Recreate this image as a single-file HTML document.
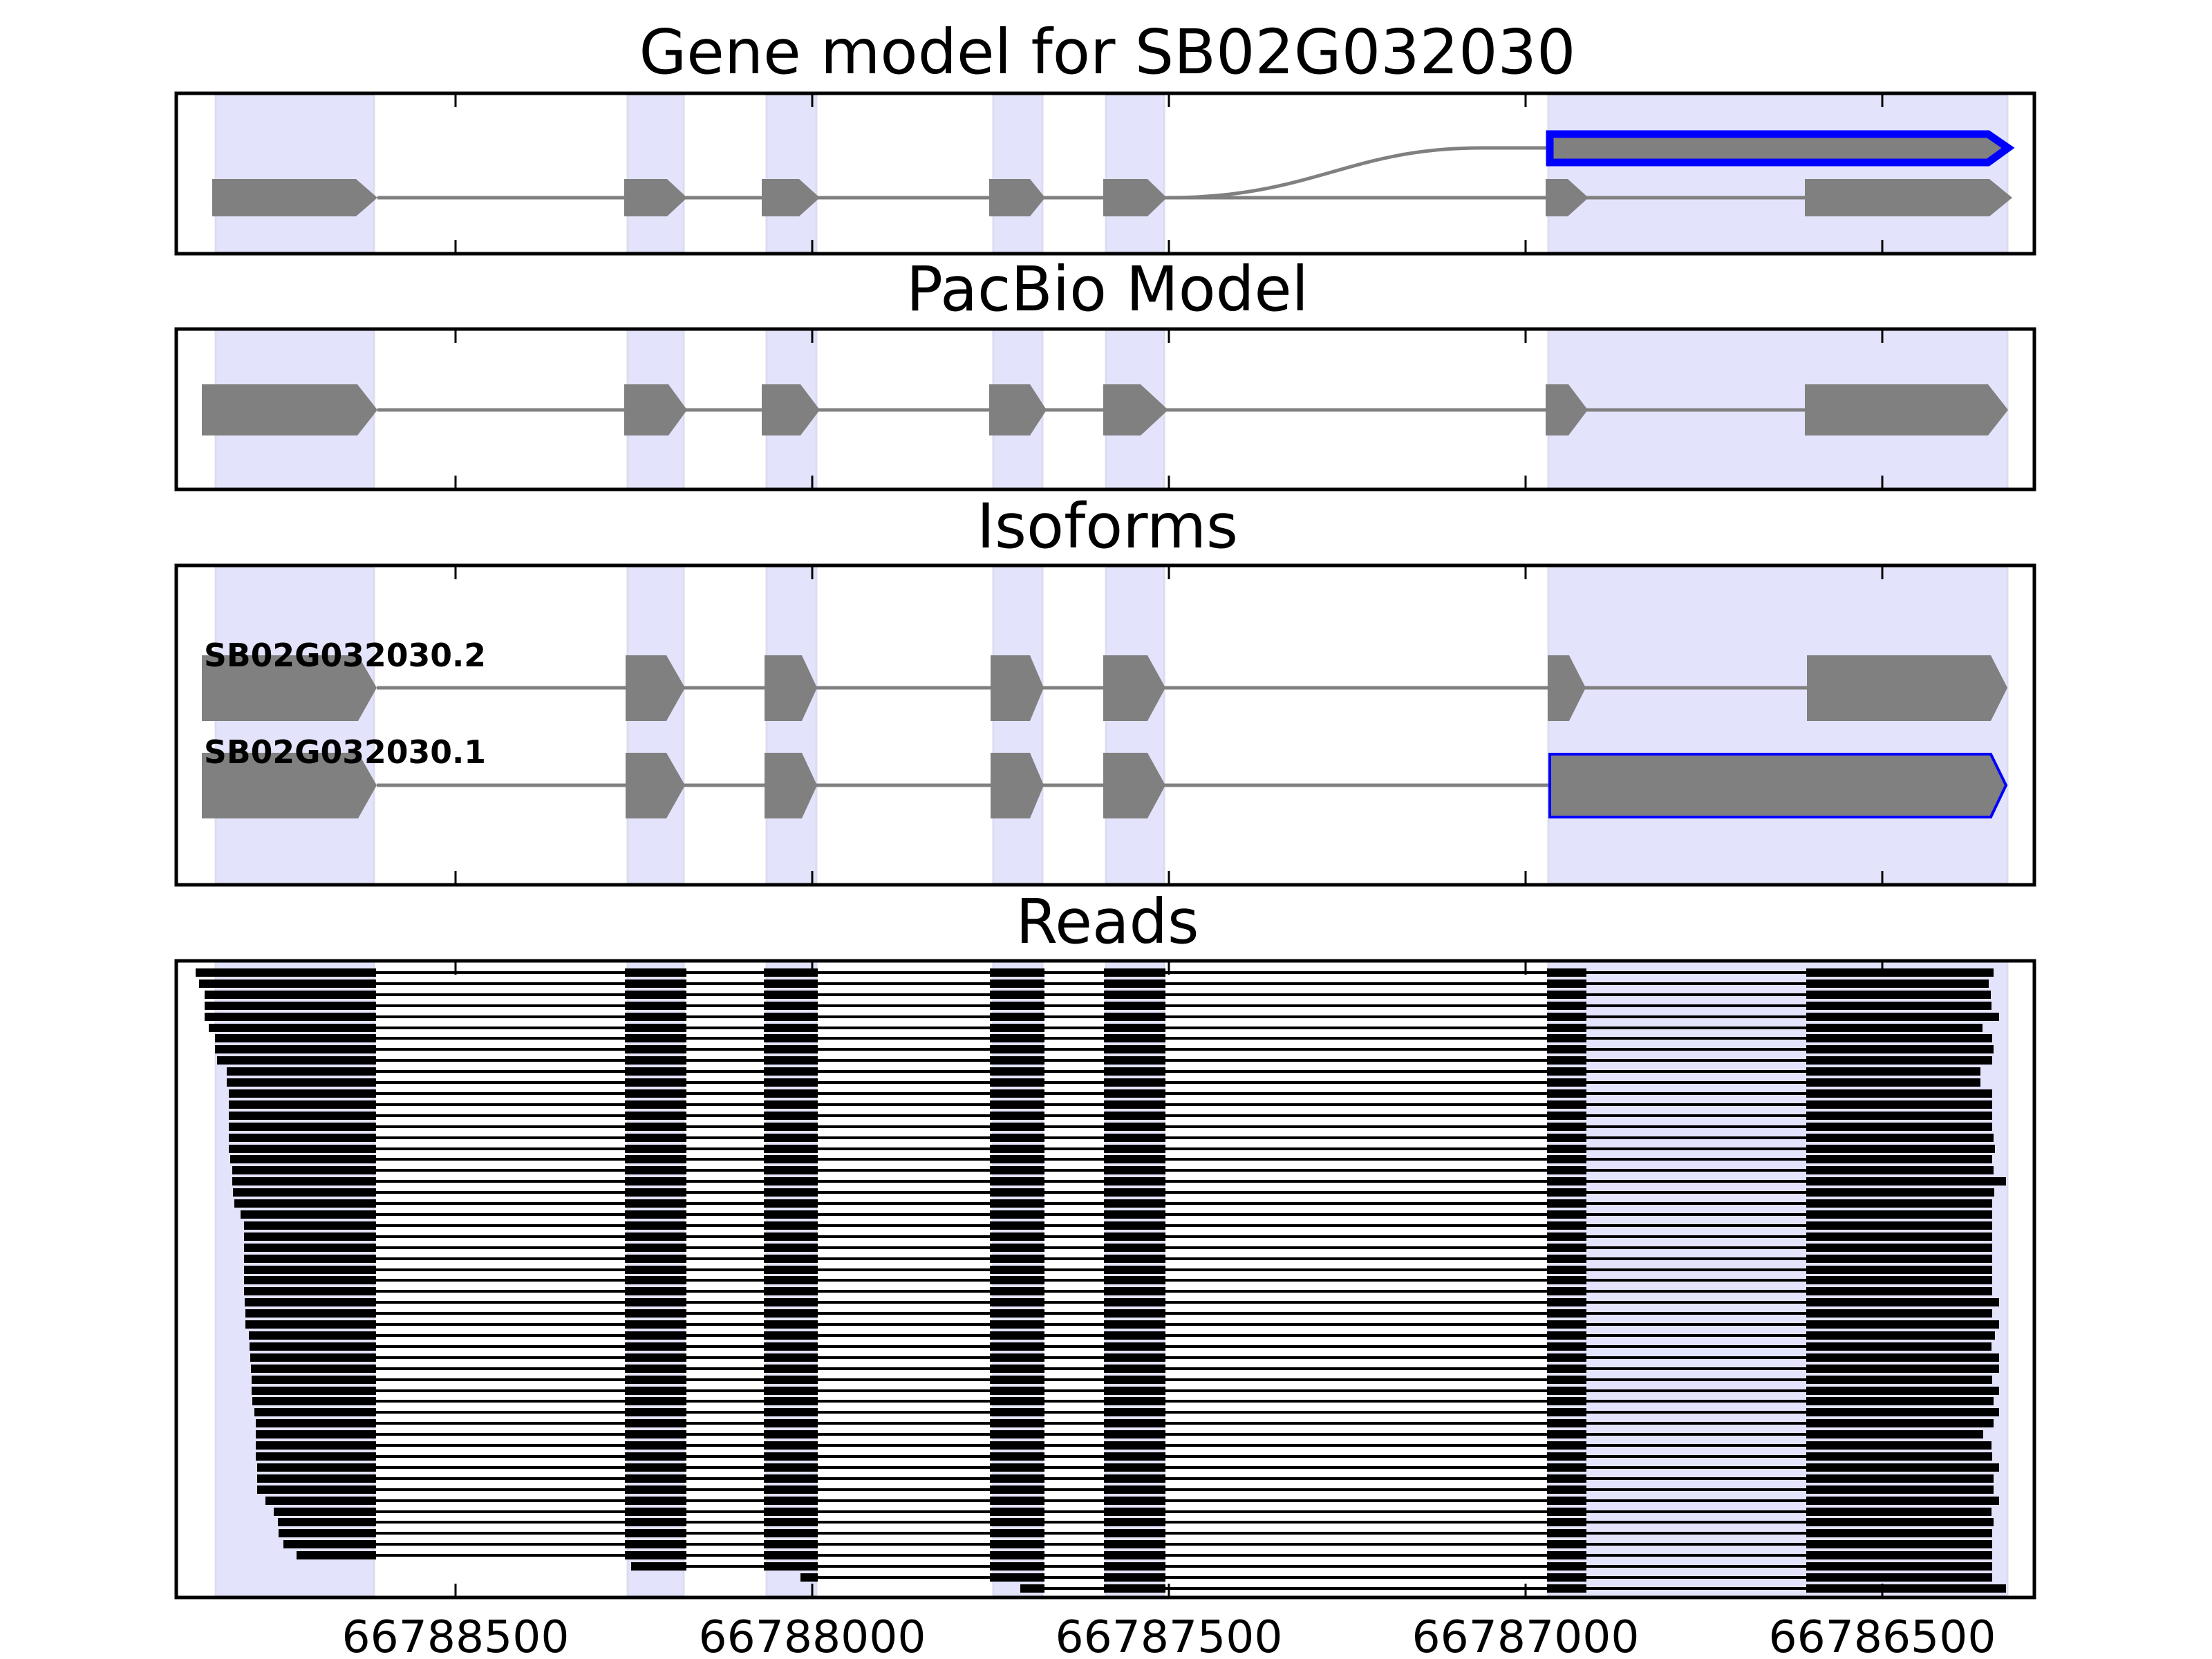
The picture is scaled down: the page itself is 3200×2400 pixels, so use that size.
<!DOCTYPE html>
<html><head><meta charset="utf-8"><style>
html,body{margin:0;padding:0;background:#fff}
svg{display:block}
.t{font-family:"DejaVu Sans","Liberation Sans",sans-serif;fill:#000}
.sh{fill:#e3e3fb;stroke:#dcdcf0;stroke-width:3}
.ex{fill:#808080}
.in{stroke:#808080;stroke-width:5;fill:none}
.bd{fill:none;stroke:#000;stroke-width:5}
.tk{stroke:#000;stroke-width:3}
.r line{stroke:#000;stroke-width:4}
.r rect{fill:#000}
</style></head><body>
<svg width="3200" height="2400" viewBox="0 0 3200 2400" xmlns="http://www.w3.org/2000/svg">
<defs>
<g id="g5"><rect x="1597" y="-6" width="89" height="12"/><rect x="2238" y="-6" width="57" height="12"/></g>
<g id="g4"><rect x="1432" y="-6" width="79" height="12"/><use href="#g5"/></g>
<g id="g3"><rect x="1105" y="-6" width="78" height="12"/><use href="#g4"/></g>
<g id="g2"><rect x="904" y="-6" width="89" height="12"/><use href="#g3"/></g>
</defs>

<text class="t" x="1602" y="106" font-size="89" text-anchor="middle" textLength="1355" lengthAdjust="spacingAndGlyphs">Gene model for SB02G032030</text>
<text class="t" x="1602" y="449" font-size="89" text-anchor="middle" textLength="582" lengthAdjust="spacingAndGlyphs">PacBio Model</text>
<text class="t" x="1602" y="792" font-size="89" text-anchor="middle" textLength="378" lengthAdjust="spacingAndGlyphs">Isoforms</text>
<text class="t" x="1602" y="1364" font-size="89" text-anchor="middle" textLength="265" lengthAdjust="spacingAndGlyphs">Reads</text>

<g>
<rect class="sh" x="312" y="137" width="229" height="228"/><rect class="sh" x="908" y="137" width="81" height="228"/><rect class="sh" x="1109" y="137" width="72" height="228"/><rect class="sh" x="1437" y="137" width="71" height="228"/><rect class="sh" x="1600" y="137" width="84" height="228"/><rect class="sh" x="2240" y="137" width="664" height="228"/>
<rect class="sh" x="312" y="478" width="229" height="229"/><rect class="sh" x="908" y="478" width="81" height="229"/><rect class="sh" x="1109" y="478" width="72" height="229"/><rect class="sh" x="1437" y="478" width="71" height="229"/><rect class="sh" x="1600" y="478" width="84" height="229"/><rect class="sh" x="2240" y="478" width="664" height="229"/>
<rect class="sh" x="312" y="820" width="229" height="458"/><rect class="sh" x="908" y="820" width="81" height="458"/><rect class="sh" x="1109" y="820" width="72" height="458"/><rect class="sh" x="1437" y="820" width="71" height="458"/><rect class="sh" x="1600" y="820" width="84" height="458"/><rect class="sh" x="2240" y="820" width="664" height="458"/>
<rect class="sh" x="312" y="1392" width="229" height="916"/><rect class="sh" x="908" y="1392" width="81" height="916"/><rect class="sh" x="1109" y="1392" width="72" height="916"/><rect class="sh" x="1437" y="1392" width="71" height="916"/><rect class="sh" x="1600" y="1392" width="84" height="916"/><rect class="sh" x="2240" y="1392" width="664" height="916"/>
</g>

<line class="in" x1="546" y1="286" x2="2611" y2="286"/>
<path class="in" d="M1688,286 C1900,286 1950,214 2143,214 H2240"/>
<polygon class="ex" points="307,259 515,259 546,286 515,313 307,313"/>
<polygon class="ex" points="903,259 965,259 994,286 965,313 903,313"/>
<polygon class="ex" points="1102,259 1156,259 1186,286 1156,313 1102,313"/>
<polygon class="ex" points="1431,259 1490,259 1512,286 1490,313 1431,313"/>
<polygon class="ex" points="1596,259 1660,259 1688,286 1660,313 1596,313"/>
<polygon class="ex" points="2236,259 2268,259 2298,286 2268,313 2236,313"/>
<polygon class="ex" points="2611,259 2878,259 2911,286 2878,313 2611,313"/>
<polygon points="2242,194 2876,194 2905,214 2876,235 2242,235" fill="#808080" stroke="#0000ff" stroke-width="11"/>

<line class="in" x1="546" y1="593" x2="2611" y2="593"/>
<polygon class="ex" points="292,556 517,556 546,593 517,630 292,630"/>
<polygon class="ex" points="903,556 967,556 994,593 967,630 903,630"/>
<polygon class="ex" points="1102,556 1158,556 1186,593 1158,630 1102,630"/>
<polygon class="ex" points="1431,556 1490,556 1514,593 1490,630 1431,630"/>
<polygon class="ex" points="1596,556 1650,556 1690,593 1650,630 1596,630"/>
<polygon class="ex" points="2236,556 2269,556 2297,593 2269,630 2236,630"/>
<polygon class="ex" points="2611,556 2876,556 2905,593 2876,630 2611,630"/>

<line class="in" x1="545" y1="995" x2="2614" y2="995"/>
<polygon class="ex" points="292,948 518,948 545,995 518,1043 292,1043"/>
<polygon class="ex" points="905,948 964,948 991,995 964,1043 905,1043"/>
<polygon class="ex" points="1106,948 1160,948 1182,995 1160,1043 1106,1043"/>
<polygon class="ex" points="1433,948 1490,948 1510,995 1490,1043 1433,1043"/>
<polygon class="ex" points="1596,948 1660,948 1686,995 1660,1043 1596,1043"/>
<polygon class="ex" points="2239,948 2270,948 2294,995 2270,1043 2239,1043"/>
<polygon class="ex" points="2614,948 2880,948 2904,995 2880,1043 2614,1043"/>
<line class="in" x1="545" y1="1136" x2="2241" y2="1136"/>
<polygon class="ex" points="292,1089 518,1089 545,1136 518,1184 292,1184"/>
<polygon class="ex" points="905,1089 964,1089 991,1136 964,1184 905,1184"/>
<polygon class="ex" points="1106,1089 1160,1089 1182,1136 1160,1184 1106,1184"/>
<polygon class="ex" points="1433,1089 1490,1089 1510,1136 1490,1184 1433,1184"/>
<polygon class="ex" points="1596,1089 1660,1089 1686,1136 1660,1184 1596,1184"/>
<polygon points="2242,1091 2880,1091 2902,1136 2880,1182 2242,1182" fill="#808080" stroke="#0000ff" stroke-width="4"/>
<text class="t" x="295" y="964" font-size="46" font-weight="bold" textLength="408" lengthAdjust="spacingAndGlyphs">SB02G032030.2</text>
<text class="t" x="295" y="1104" font-size="46" font-weight="bold" textLength="408" lengthAdjust="spacingAndGlyphs">SB02G032030.1</text>

<g class="r">
<g transform="translate(0,1407)"><line x1="283" x2="2884"/><rect x="283" y="-6" width="261" height="12"/><use href="#g2"/><rect x="2613" y="-6" width="271" height="12"/></g>
<g transform="translate(0,1423)"><line x1="288" x2="2877"/><rect x="288" y="-6" width="256" height="12"/><use href="#g2"/><rect x="2613" y="-6" width="264" height="12"/></g>
<g transform="translate(0,1439)"><line x1="296" x2="2880"/><rect x="296" y="-6" width="248" height="12"/><use href="#g2"/><rect x="2613" y="-6" width="267" height="12"/></g>
<g transform="translate(0,1455)"><line x1="296" x2="2881"/><rect x="296" y="-6" width="248" height="12"/><use href="#g2"/><rect x="2613" y="-6" width="268" height="12"/></g>
<g transform="translate(0,1471)"><line x1="296" x2="2892"/><rect x="296" y="-6" width="248" height="12"/><use href="#g2"/><rect x="2613" y="-6" width="279" height="12"/></g>
<g transform="translate(0,1487)"><line x1="302" x2="2868"/><rect x="302" y="-6" width="242" height="12"/><use href="#g2"/><rect x="2613" y="-6" width="255" height="12"/></g>
<g transform="translate(0,1502)"><line x1="311" x2="2882"/><rect x="311" y="-6" width="233" height="12"/><use href="#g2"/><rect x="2613" y="-6" width="269" height="12"/></g>
<g transform="translate(0,1518)"><line x1="311" x2="2884"/><rect x="311" y="-6" width="233" height="12"/><use href="#g2"/><rect x="2613" y="-6" width="271" height="12"/></g>
<g transform="translate(0,1534)"><line x1="314" x2="2882"/><rect x="314" y="-6" width="230" height="12"/><use href="#g2"/><rect x="2613" y="-6" width="269" height="12"/></g>
<g transform="translate(0,1550)"><line x1="328" x2="2865"/><rect x="328" y="-6" width="216" height="12"/><use href="#g2"/><rect x="2613" y="-6" width="252" height="12"/></g>
<g transform="translate(0,1566)"><line x1="328" x2="2865"/><rect x="328" y="-6" width="216" height="12"/><use href="#g2"/><rect x="2613" y="-6" width="252" height="12"/></g>
<g transform="translate(0,1582)"><line x1="331" x2="2882"/><rect x="331" y="-6" width="213" height="12"/><use href="#g2"/><rect x="2613" y="-6" width="269" height="12"/></g>
<g transform="translate(0,1598)"><line x1="331" x2="2882"/><rect x="331" y="-6" width="213" height="12"/><use href="#g2"/><rect x="2613" y="-6" width="269" height="12"/></g>
<g transform="translate(0,1614)"><line x1="331" x2="2882"/><rect x="331" y="-6" width="213" height="12"/><use href="#g2"/><rect x="2613" y="-6" width="269" height="12"/></g>
<g transform="translate(0,1630)"><line x1="331" x2="2882"/><rect x="331" y="-6" width="213" height="12"/><use href="#g2"/><rect x="2613" y="-6" width="269" height="12"/></g>
<g transform="translate(0,1646)"><line x1="331" x2="2884"/><rect x="331" y="-6" width="213" height="12"/><use href="#g2"/><rect x="2613" y="-6" width="271" height="12"/></g>
<g transform="translate(0,1662)"><line x1="331" x2="2886"/><rect x="331" y="-6" width="213" height="12"/><use href="#g2"/><rect x="2613" y="-6" width="273" height="12"/></g>
<g transform="translate(0,1677)"><line x1="333" x2="2882"/><rect x="333" y="-6" width="211" height="12"/><use href="#g2"/><rect x="2613" y="-6" width="269" height="12"/></g>
<g transform="translate(0,1693)"><line x1="336" x2="2884"/><rect x="336" y="-6" width="208" height="12"/><use href="#g2"/><rect x="2613" y="-6" width="271" height="12"/></g>
<g transform="translate(0,1709)"><line x1="336" x2="2902"/><rect x="336" y="-6" width="208" height="12"/><use href="#g2"/><rect x="2613" y="-6" width="289" height="12"/></g>
<g transform="translate(0,1725)"><line x1="337" x2="2885"/><rect x="337" y="-6" width="207" height="12"/><use href="#g2"/><rect x="2613" y="-6" width="272" height="12"/></g>
<g transform="translate(0,1741)"><line x1="339" x2="2882"/><rect x="339" y="-6" width="205" height="12"/><use href="#g2"/><rect x="2613" y="-6" width="269" height="12"/></g>
<g transform="translate(0,1757)"><line x1="348" x2="2882"/><rect x="348" y="-6" width="196" height="12"/><use href="#g2"/><rect x="2613" y="-6" width="269" height="12"/></g>
<g transform="translate(0,1773)"><line x1="353" x2="2882"/><rect x="353" y="-6" width="191" height="12"/><use href="#g2"/><rect x="2613" y="-6" width="269" height="12"/></g>
<g transform="translate(0,1789)"><line x1="353" x2="2882"/><rect x="353" y="-6" width="191" height="12"/><use href="#g2"/><rect x="2613" y="-6" width="269" height="12"/></g>
<g transform="translate(0,1805)"><line x1="353" x2="2882"/><rect x="353" y="-6" width="191" height="12"/><use href="#g2"/><rect x="2613" y="-6" width="269" height="12"/></g>
<g transform="translate(0,1821)"><line x1="353" x2="2882"/><rect x="353" y="-6" width="191" height="12"/><use href="#g2"/><rect x="2613" y="-6" width="269" height="12"/></g>
<g transform="translate(0,1837)"><line x1="353" x2="2882"/><rect x="353" y="-6" width="191" height="12"/><use href="#g2"/><rect x="2613" y="-6" width="269" height="12"/></g>
<g transform="translate(0,1852)"><line x1="353" x2="2882"/><rect x="353" y="-6" width="191" height="12"/><use href="#g2"/><rect x="2613" y="-6" width="269" height="12"/></g>
<g transform="translate(0,1868)"><line x1="353" x2="2882"/><rect x="353" y="-6" width="191" height="12"/><use href="#g2"/><rect x="2613" y="-6" width="269" height="12"/></g>
<g transform="translate(0,1884)"><line x1="354" x2="2892"/><rect x="354" y="-6" width="190" height="12"/><use href="#g2"/><rect x="2613" y="-6" width="279" height="12"/></g>
<g transform="translate(0,1900)"><line x1="355" x2="2882"/><rect x="355" y="-6" width="189" height="12"/><use href="#g2"/><rect x="2613" y="-6" width="269" height="12"/></g>
<g transform="translate(0,1916)"><line x1="355" x2="2892"/><rect x="355" y="-6" width="189" height="12"/><use href="#g2"/><rect x="2613" y="-6" width="279" height="12"/></g>
<g transform="translate(0,1932)"><line x1="360" x2="2886"/><rect x="360" y="-6" width="184" height="12"/><use href="#g2"/><rect x="2613" y="-6" width="273" height="12"/></g>
<g transform="translate(0,1948)"><line x1="361" x2="2881"/><rect x="361" y="-6" width="183" height="12"/><use href="#g2"/><rect x="2613" y="-6" width="268" height="12"/></g>
<g transform="translate(0,1964)"><line x1="362" x2="2892"/><rect x="362" y="-6" width="182" height="12"/><use href="#g2"/><rect x="2613" y="-6" width="279" height="12"/></g>
<g transform="translate(0,1980)"><line x1="363" x2="2892"/><rect x="363" y="-6" width="181" height="12"/><use href="#g2"/><rect x="2613" y="-6" width="279" height="12"/></g>
<g transform="translate(0,1996)"><line x1="364" x2="2882"/><rect x="364" y="-6" width="180" height="12"/><use href="#g2"/><rect x="2613" y="-6" width="269" height="12"/></g>
<g transform="translate(0,2012)"><line x1="364" x2="2892"/><rect x="364" y="-6" width="180" height="12"/><use href="#g2"/><rect x="2613" y="-6" width="279" height="12"/></g>
<g transform="translate(0,2027)"><line x1="365" x2="2884"/><rect x="365" y="-6" width="179" height="12"/><use href="#g2"/><rect x="2613" y="-6" width="271" height="12"/></g>
<g transform="translate(0,2043)"><line x1="368" x2="2892"/><rect x="368" y="-6" width="176" height="12"/><use href="#g2"/><rect x="2613" y="-6" width="279" height="12"/></g>
<g transform="translate(0,2059)"><line x1="370" x2="2884"/><rect x="370" y="-6" width="174" height="12"/><use href="#g2"/><rect x="2613" y="-6" width="271" height="12"/></g>
<g transform="translate(0,2075)"><line x1="370" x2="2869"/><rect x="370" y="-6" width="174" height="12"/><use href="#g2"/><rect x="2613" y="-6" width="256" height="12"/></g>
<g transform="translate(0,2091)"><line x1="370" x2="2881"/><rect x="370" y="-6" width="174" height="12"/><use href="#g2"/><rect x="2613" y="-6" width="268" height="12"/></g>
<g transform="translate(0,2107)"><line x1="370" x2="2882"/><rect x="370" y="-6" width="174" height="12"/><use href="#g2"/><rect x="2613" y="-6" width="269" height="12"/></g>
<g transform="translate(0,2123)"><line x1="372" x2="2892"/><rect x="372" y="-6" width="172" height="12"/><use href="#g2"/><rect x="2613" y="-6" width="279" height="12"/></g>
<g transform="translate(0,2139)"><line x1="372" x2="2884"/><rect x="372" y="-6" width="172" height="12"/><use href="#g2"/><rect x="2613" y="-6" width="271" height="12"/></g>
<g transform="translate(0,2155)"><line x1="372" x2="2884"/><rect x="372" y="-6" width="172" height="12"/><use href="#g2"/><rect x="2613" y="-6" width="271" height="12"/></g>
<g transform="translate(0,2171)"><line x1="384" x2="2892"/><rect x="384" y="-6" width="160" height="12"/><use href="#g2"/><rect x="2613" y="-6" width="279" height="12"/></g>
<g transform="translate(0,2187)"><line x1="396" x2="2881"/><rect x="396" y="-6" width="148" height="12"/><use href="#g2"/><rect x="2613" y="-6" width="268" height="12"/></g>
<g transform="translate(0,2202)"><line x1="402" x2="2884"/><rect x="402" y="-6" width="142" height="12"/><use href="#g2"/><rect x="2613" y="-6" width="271" height="12"/></g>
<g transform="translate(0,2218)"><line x1="403" x2="2882"/><rect x="403" y="-6" width="141" height="12"/><use href="#g2"/><rect x="2613" y="-6" width="269" height="12"/></g>
<g transform="translate(0,2234)"><line x1="410" x2="2882"/><rect x="410" y="-6" width="134" height="12"/><use href="#g2"/><rect x="2613" y="-6" width="269" height="12"/></g>
<g transform="translate(0,2250)"><line x1="429" x2="2882"/><rect x="429" y="-6" width="115" height="12"/><use href="#g2"/><rect x="2613" y="-6" width="269" height="12"/></g>
<g transform="translate(0,2266)"><line x1="913" x2="2882"/><rect x="913" y="-6" width="80" height="12"/><use href="#g3"/><rect x="2613" y="-6" width="269" height="12"/></g>
<g transform="translate(0,2282)"><line x1="1158" x2="2882"/><rect x="1158" y="-6" width="25" height="12"/><use href="#g4"/><rect x="2613" y="-6" width="269" height="12"/></g>
<g transform="translate(0,2298)"><line x1="1476" x2="2902"/><rect x="1476" y="-6" width="35" height="12"/><use href="#g5"/><rect x="2613" y="-6" width="289" height="12"/></g>
</g>

<rect class="bd" x="255" y="135" width="2688" height="232"/>
<rect class="bd" x="255" y="476" width="2688" height="232"/>
<rect class="bd" x="255" y="818" width="2688" height="462"/>
<rect class="bd" x="255" y="1390" width="2688" height="921"/>
<g class="tk">
<line x1="659" y1="135" x2="659" y2="155"/><line x1="1175" y1="135" x2="1175" y2="155"/><line x1="1691" y1="135" x2="1691" y2="155"/><line x1="2207" y1="135" x2="2207" y2="155"/><line x1="2723" y1="135" x2="2723" y2="155"/>
<line x1="659" y1="347" x2="659" y2="367"/><line x1="1175" y1="347" x2="1175" y2="367"/><line x1="1691" y1="347" x2="1691" y2="367"/><line x1="2207" y1="347" x2="2207" y2="367"/><line x1="2723" y1="347" x2="2723" y2="367"/>
<line x1="659" y1="476" x2="659" y2="496"/><line x1="1175" y1="476" x2="1175" y2="496"/><line x1="1691" y1="476" x2="1691" y2="496"/><line x1="2207" y1="476" x2="2207" y2="496"/><line x1="2723" y1="476" x2="2723" y2="496"/>
<line x1="659" y1="688" x2="659" y2="708"/><line x1="1175" y1="688" x2="1175" y2="708"/><line x1="1691" y1="688" x2="1691" y2="708"/><line x1="2207" y1="688" x2="2207" y2="708"/><line x1="2723" y1="688" x2="2723" y2="708"/>
<line x1="659" y1="818" x2="659" y2="838"/><line x1="1175" y1="818" x2="1175" y2="838"/><line x1="1691" y1="818" x2="1691" y2="838"/><line x1="2207" y1="818" x2="2207" y2="838"/><line x1="2723" y1="818" x2="2723" y2="838"/>
<line x1="659" y1="1260" x2="659" y2="1280"/><line x1="1175" y1="1260" x2="1175" y2="1280"/><line x1="1691" y1="1260" x2="1691" y2="1280"/><line x1="2207" y1="1260" x2="2207" y2="1280"/><line x1="2723" y1="1260" x2="2723" y2="1280"/>
<line x1="659" y1="1390" x2="659" y2="1410"/><line x1="1175" y1="1390" x2="1175" y2="1410"/><line x1="1691" y1="1390" x2="1691" y2="1410"/><line x1="2207" y1="1390" x2="2207" y2="1410"/><line x1="2723" y1="1390" x2="2723" y2="1410"/>
<line x1="659" y1="2291" x2="659" y2="2311"/><line x1="1175" y1="2291" x2="1175" y2="2311"/><line x1="1691" y1="2291" x2="1691" y2="2311"/><line x1="2207" y1="2291" x2="2207" y2="2311"/><line x1="2723" y1="2291" x2="2723" y2="2311"/>
</g>
<g class="t" font-size="64" text-anchor="middle">
<text x="659" y="2390" textLength="329" lengthAdjust="spacingAndGlyphs">66788500</text>
<text x="1175" y="2390" textLength="329" lengthAdjust="spacingAndGlyphs">66788000</text>
<text x="1691" y="2390" textLength="329" lengthAdjust="spacingAndGlyphs">66787500</text>
<text x="2207" y="2390" textLength="329" lengthAdjust="spacingAndGlyphs">66787000</text>
<text x="2723" y="2390" textLength="329" lengthAdjust="spacingAndGlyphs">66786500</text>
</g>
</svg>
</body></html>
